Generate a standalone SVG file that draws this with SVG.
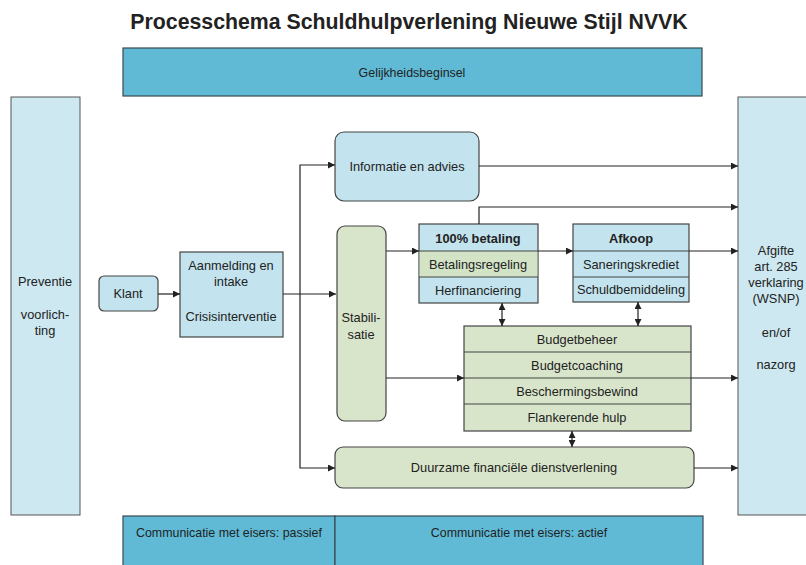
<svg xmlns="http://www.w3.org/2000/svg" width="806" height="565" viewBox="0 0 806 565">
<defs>
<marker id="ah" viewBox="0 0 10 10" refX="10" refY="5" markerWidth="7" markerHeight="7" markerUnits="userSpaceOnUse" orient="auto-start-reverse"><path d="M0,0 L10,5 L0,10 z" fill="#222"/></marker>
</defs>
<style>
text{font-family:"Liberation Sans",Arial,sans-serif;fill:#222;text-anchor:middle}
.t{font-size:12.8px}
.s{font-size:12.4px}
.b{font-weight:bold}
.band{fill:#60bad6;stroke:#3a4a50;stroke-width:1.2}
.col{fill:#cde8f0;stroke:#555;stroke-width:1}
.blue{fill:#c3e4ee;stroke:#444;stroke-width:1.2}
.green{fill:#d8e5ca;stroke:#444;stroke-width:1.2}
.sep{stroke:#444;stroke-width:1.2}
.c{fill:none;stroke:#222;stroke-width:1.2}
</style>
<rect width="806" height="565" fill="#fff"/>
<text x="409" y="29" class="b" style="font-size:21.3px">Processchema Schuldhulpverlening Nieuwe Stijl NVVK</text>

<g id="gelijkheid"><rect class="band" x="123" y="48" width="579" height="48"/><text x="412" y="77" class="s">Gelijkheidsbeginsel</text></g>
<g id="preventie"><rect class="col" x="11" y="97" width="69" height="418"/><text x="45" y="286" class="t">Preventie</text><text x="45" y="319" class="t">voorlich-</text><text x="45" y="335" class="t">ting</text></g>
<g id="afgifte"><rect class="col" x="738" y="97" width="72" height="418"/><text x="776" y="255" class="t">Afgifte</text><text x="776" y="271" class="t">art. 285</text><text x="776" y="287" class="t">verklaring</text><text x="776" y="303" class="t">(WSNP)</text><text x="776" y="337" class="t">en/of</text><text x="776" y="369" class="t">nazorg</text></g>
<g id="klant"><rect class="blue" x="99" y="276" width="59" height="35" rx="5"/><text x="128" y="298" class="t">Klant</text></g>
<g id="aanmelding"><rect class="blue" x="180" y="252" width="103" height="85"/><text x="231" y="270" class="t">Aanmelding en</text><text x="231" y="286" class="t">intake</text><text x="231" y="321" class="t">Crisisinterventie</text></g>
<g id="informatie"><rect class="blue" x="335" y="132" width="144" height="69" rx="9"/><text x="407" y="171" class="t">Informatie en advies</text></g>
<g id="stabilisatie"><rect class="green" x="337" y="226" width="49" height="195" rx="8"/><text x="361" y="322" class="t">Stabili-</text><text x="361" y="339" class="t">satie</text></g>
<g id="betaling"><rect class="blue" x="419" y="224" width="119" height="79"/><rect x="419.6" y="251" width="117.8" height="26" fill="#d3e3c6"/><line class="sep" x1="419" y1="251" x2="538" y2="251"/><line class="sep" x1="419" y1="277" x2="538" y2="277"/><text x="478" y="243" class="t b">100% betaling</text><text x="478" y="269" class="t">Betalingsregeling</text><text x="478" y="295" class="t">Herfinanciering</text></g>
<g id="afkoop"><rect class="blue" x="573" y="224" width="116" height="78"/><line class="sep" x1="573" y1="251" x2="689" y2="251"/><line class="sep" x1="573" y1="277" x2="689" y2="277"/><text x="631" y="243" class="t b">Afkoop</text><text x="631" y="269" class="t">Saneringskrediet</text><text x="631" y="294" class="t">Schuldbemiddeling</text></g>
<g id="budget"><rect class="green" x="464" y="326" width="227" height="105"/><line class="sep" x1="464" y1="352" x2="691" y2="352"/><line class="sep" x1="464" y1="378" x2="691" y2="378"/><line class="sep" x1="464" y1="404" x2="691" y2="404"/><text x="577" y="344" class="t">Budgetbeheer</text><text x="577" y="370" class="t">Budgetcoaching</text><text x="577" y="396" class="t">Beschermingsbewind</text><text x="577" y="422" class="t">Flankerende hulp</text></g>
<g id="duurzame"><rect class="green" x="335" y="447" width="359" height="41" rx="8"/><text x="514" y="472" class="t">Duurzame financiële dienstverlening</text></g>
<g id="communicatie"><rect class="band" x="123" y="516" width="212" height="52"/><rect class="band" x="335" y="516" width="368" height="52"/><text x="229" y="537" class="s">Communicatie met eisers: passief</text><text x="519" y="537" class="s">Communicatie met eisers: actief</text></g>

<g id="connectors">
<line class="c" x1="158" y1="294" x2="180" y2="294" marker-end="url(#ah)"/>
<line class="c" x1="283" y1="294" x2="336" y2="294" marker-end="url(#ah)"/>
<polyline class="c" points="335,165 300,165 300,468 335,468" marker-start="url(#ah)" marker-end="url(#ah)"/>
<line class="c" x1="479" y1="166" x2="738" y2="166" marker-end="url(#ah)"/>
<polyline class="c" points="479,224 479,207 738,207" marker-end="url(#ah)"/>
<line class="c" x1="386" y1="251" x2="419" y2="251" marker-end="url(#ah)"/>
<line class="c" x1="538" y1="251" x2="573" y2="251" marker-end="url(#ah)"/>
<line class="c" x1="689" y1="251" x2="738" y2="251" marker-end="url(#ah)"/>
<line class="c" x1="386" y1="378" x2="464" y2="378" marker-end="url(#ah)"/>
<line class="c" x1="691" y1="378" x2="738" y2="378" marker-end="url(#ah)"/>
<line class="c" x1="694" y1="468" x2="738" y2="468" marker-end="url(#ah)"/>
<line class="c" x1="502" y1="303" x2="502" y2="326" marker-start="url(#ah)" marker-end="url(#ah)"/>
<line class="c" x1="638" y1="302" x2="638" y2="326" marker-start="url(#ah)" marker-end="url(#ah)"/>
<line class="c" x1="572" y1="431" x2="572" y2="447" marker-start="url(#ah)" marker-end="url(#ah)"/>
</g>
</svg>
